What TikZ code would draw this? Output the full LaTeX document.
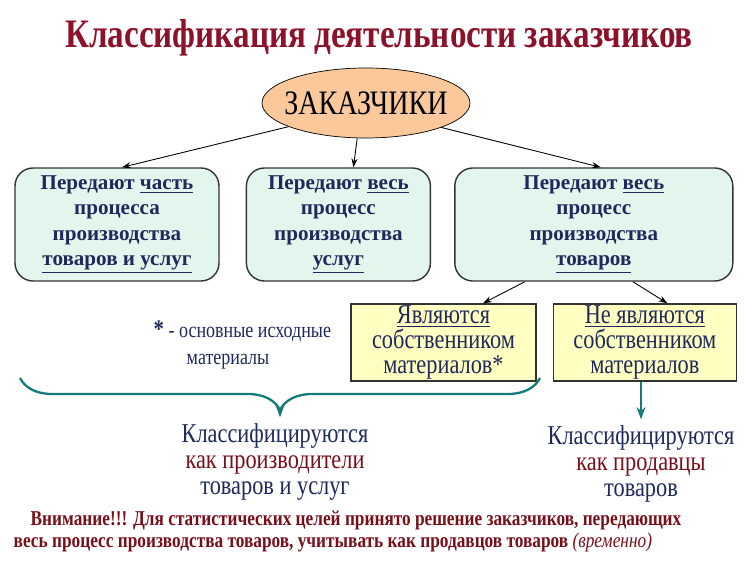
\documentclass[tikz,border=0pt]{standalone}
\usepackage{fontspec}
\setmainfont{Liberation Serif}
\newfontfamily\narrowserif[FakeStretch=0.82]{Liberation Serif}
\usetikzlibrary{arrows.meta,positioning,shapes.geometric,decorations.pathreplacing}
\definecolor{titlered}{RGB}{140,18,42}
\definecolor{notered}{RGB}{120,14,24}
\definecolor{navytext}{RGB}{32,40,92}
\definecolor{mintfill}{RGB}{226,246,237}
\definecolor{peach}{RGB}{250,200,155}
\definecolor{yellowfill}{RGB}{255,255,194}
\definecolor{tealline}{RGB}{20,122,122}

\begin{document}
\begin{tikzpicture}[
  part/.style={draw=black!80, line width=0.8pt, rounded corners=0.36cm, fill=mintfill, text=navytext, font=\bfseries\fontsize{12}{14.4}\selectfont, align=center, minimum height=2.26cm, inner sep=2pt},
  owner/.style={draw=black!80, line width=0.8pt, fill=yellowfill, text=navytext, font=\narrowserif\fontsize{15.5}{14}\selectfont, align=center, minimum width=3.7cm, minimum height=1.54cm, inner sep=1pt},
  result/.style={align=center, text=navytext, font=\narrowserif\fontsize{15.5}{14.8}\selectfont},
  arrow/.style={-{Stealth[length=5pt,width=3.5pt]}, line width=0.5pt},
  tealarrow/.style={-{Stealth[length=7pt,width=5pt]}, line width=1.2pt, draw=tealline, fill=tealline}
]
\useasboundingbox (0,0) rectangle (15,-11.24);
\node[font=\narrowserif\bfseries\fontsize{23}{26}\selectfont, text=titlered] (title) at (7.58,-0.76) {Классификация деятельности заказчиков};
\node[draw, ellipse, fill=peach, inner xsep=-0.17cm, minimum width=4.16cm, minimum height=1.4cm, font=\narrowserif\fontsize{19.5}{20}\selectfont] (customers) at (7.32,-2.06) {ЗАКАЗЧИКИ};
\node[part, minimum width=4.08cm] (partial) at (2.34,-4.49) {Передают \underline{часть}\\процесса\\производства\\\underline{товаров и услуг}};
\node[part, minimum width=3.68cm, right=0.52cm of partial] (services) {Передают \underline{весь}\\процесс\\производства\\\underline{услуг}};
\node[part, minimum width=5.56cm, right=0.46cm of services] (goods) {Передают \underline{весь}\\процесс\\производства\\\underline{товаров}};
\node[owner] (owners) at (8.87,-6.85) {\underline{Являются}\\собственником\\материалов*};
\node[owner, minimum width=3.66cm, right=0.32cm of owners] (nonowners) {\underline{Не являются}\\собственником\\материалов};
\node[anchor=west, align=left, text=navytext, font=\narrowserif\fontsize{12.5}{15.3}\selectfont] (footnote) at (2.95,-6.9) {{\bfseries\Large *} - основные исходные\\\hspace{0.66cm}материалы};
\node[result] (producers) at (5.5,-9.24) {Классифицируются\\{\color{notered}как производители}\\товаров и услуг};
\node[result] (sellers) at (12.82,-9.28) {Классифицируются\\{\color{notered}как продавцы}\\товаров};
\node[anchor=west, align=left, text=notered, font=\narrowserif\bfseries\fontsize{12}{13}\selectfont] (warning) at (0.15,-10.63) {\hspace{0.34cm}Внимание!!! Для статистических целей принято решение заказчиков, передающих\\весь процесс производства товаров, учитывать как продавцов товаров {\mdseries\itshape (временно)}};
\coordinate (tip) at (5.6,-8.2);
\draw[arrow] (customers.197) -- ([xshift=0.1cm]partial.north);
\draw[arrow] (customers.256) -- ([xshift=0.3cm]services.north);
\draw[arrow] (customers.342) -- ([xshift=0.14cm]goods.north);
\draw[arrow] ([xshift=-1.38cm]goods.south) -- ([xshift=0.79cm]owners.north);
\draw[arrow] ([xshift=0.78cm]goods.south) -- ([xshift=0.45cm]nonowners.north);
\draw[decorate, decoration={brace, mirror, amplitude=0.64cm}, draw=tealline, line width=1.3pt] (0.4,-7.56) -- (10.8,-7.56);
\draw[tealarrow] (tip) -- (tip |- producers.north);
\draw[tealarrow] (nonowners.south -| sellers) -- (sellers.north);
\end{tikzpicture}
\end{document}
